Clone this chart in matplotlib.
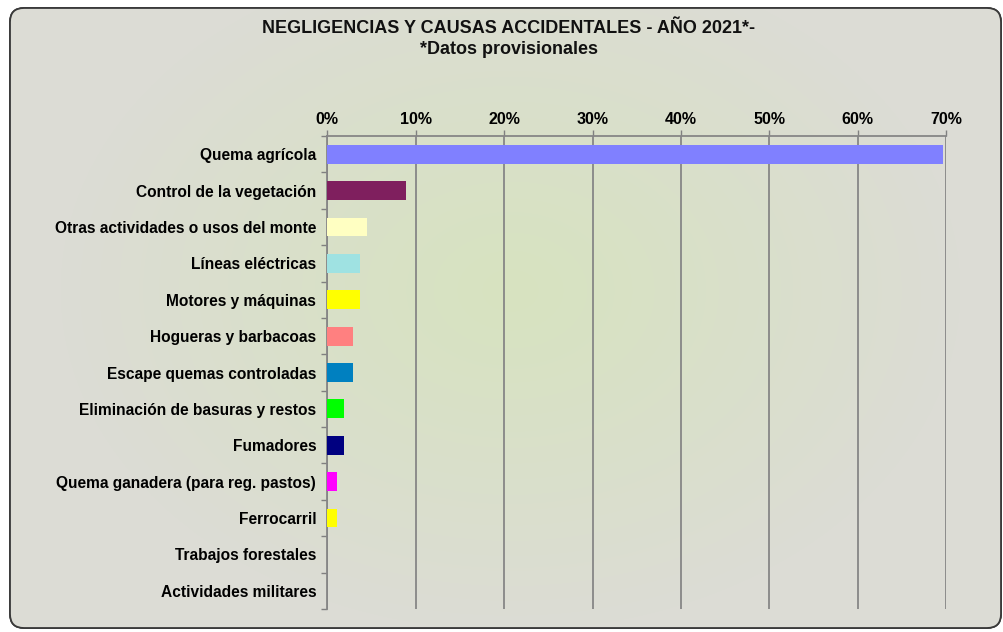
import numpy as np
import matplotlib
matplotlib.use("Agg")
import matplotlib.pyplot as plt
from matplotlib.patches import FancyBboxPatch
from matplotlib.ticker import FixedLocator, FuncFormatter

plt.rcParams['font.family'] = ['Liberation Sans', 'DejaVu Sans']

categories = [
    "Quema agrícola",
    "Control de la vegetación",
    "Otras actividades o usos del monte",
    "Líneas eléctricas",
    "Motores y máquinas",
    "Hogueras y barbacoas",
    "Escape quemas controladas",
    "Eliminación de basuras y restos",
    "Fumadores",
    "Quema ganadera (para reg. pastos)",
    "Ferrocarril",
    "Trabajos forestales",
    "Actividades militares",
]
values = [69.6, 8.9, 4.5, 3.7, 3.7, 2.9, 2.9, 1.9, 1.9, 1.05, 1.05, 0.0, 0.0]
colors = ["#8080FF", "#7F1F5E", "#FFFFC2", "#9FE2E2", "#FFFF00", "#FF8080",
          "#0080C0", "#00FF00", "#000080", "#FF00FF", "#FFFF00", "#FFFFFF", "#FFFFFF"]
xticks = [0, 10, 20, 30, 40, 50, 60, 70]
title = "NEGLIGENCIAS Y CAUSAS ACCIDENTALES - AÑO 2021*-"
subtitle = "*Datos provisionales"

W, H = 1004, 632
fig = plt.figure(figsize=(W / 100, H / 100), dpi=100)
fig.patch.set_facecolor("white")

# background axes with rounded box and radial gradient
bg = fig.add_axes([0, 0, 1, 1])
bg.set_xlim(0, W)
bg.set_ylim(H, 0)
bg.axis("off")
box = FancyBboxPatch((10, 8), W - 13, H - 12, boxstyle="round,pad=0,rounding_size=14",
                     facecolor="#dcdcd5", edgecolor="#3a3a3a", linewidth=1.3, zorder=1)
bg.add_patch(box)
yy, xx = np.mgrid[0:H, 0:W]
r = np.sqrt(((xx - 510) / 450.0) ** 2 + ((yy - 290) / 340.0) ** 2)
t = np.clip(r, 0, 1) ** 1.1
c_center = np.array([215, 227, 192]) / 255.0
c_edge = np.array([220, 220, 213]) / 255.0
img = c_center[None, None, :] * (1 - t[..., None]) + c_edge[None, None, :] * t[..., None]
im = bg.imshow(img, extent=(0, W, H, 0), zorder=2, interpolation="bilinear")
im.set_clip_path(box)
box2 = FancyBboxPatch((10, 8), W - 13, H - 12, boxstyle="round,pad=0,rounding_size=14",
                      facecolor="none", edgecolor="#3a3a3a", linewidth=1.3, zorder=3)
bg.add_patch(box2)

bg.text(509, 28, title, ha="center", va="center", fontsize=13, fontweight="bold", color="#111111", zorder=4)
bg.text(509, 49, subtitle, ha="center", va="center", fontsize=13, fontweight="bold", color="#111111", zorder=4)

# main axes
left, right = 327.3 / W, 946.3 / W
top, bottom = 1 - 136 / H, 1 - 609 / H
ax = fig.add_axes([left, bottom, right - left, top - bottom])
ax.set_facecolor("none")
n = len(categories)
y = np.arange(n)
ax.barh(y, values, height=0.52, color=colors, edgecolor="none", zorder=3)
ax.set_xlim(0, 70)
ax.set_ylim(n - 0.5, -0.5)

ax.xaxis.tick_top()
ax.set_xticks(xticks)
ax.xaxis.set_major_formatter(FuncFormatter(lambda v, p: f"{int(v)}%"))
ax.tick_params(axis="x", direction="out", length=4, width=1, color="#808080", pad=2.5,
               labelsize=11.5)
for lab in ax.get_xticklabels():
    lab.set_fontweight("bold")
ax.grid(axis="x", color="#868686", linewidth=1.3, zorder=1)
ax.set_axisbelow(True)

ax.set_yticks(y)
ax.set_yticklabels(categories)
ax.tick_params(axis="y", length=0, pad=8, labelsize=11.2)
for lab in ax.get_yticklabels():
    lab.set_fontweight("bold")
ax.yaxis.set_minor_locator(FixedLocator(np.arange(-0.5, n, 1.0)))
ax.tick_params(axis="y", which="minor", direction="out", length=4, width=1, color="#808080")

for s in ["right", "bottom"]:
    ax.spines[s].set_visible(False)
ax.spines["left"].set_color("#868686")
ax.spines["left"].set_linewidth(1.3)
ax.spines["top"].set_color("#868686")
ax.spines["top"].set_linewidth(1.3)

fig.savefig("out.png", dpi=100)
